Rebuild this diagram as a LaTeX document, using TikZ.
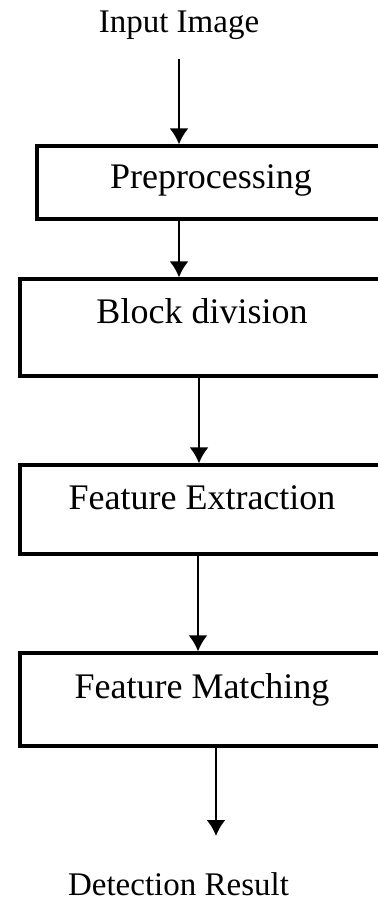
\documentclass[tikz,border=0pt]{standalone}
\usepackage{fontspec}
\setmainfont{Liberation Serif}
\usetikzlibrary{arrows.meta}

\tikzset{
	stage/.style = {draw, line width = 1.6pt, minimum width = 182pt, text height = 12pt, text depth = 12pt, inner sep = 0pt, font = \fontsize{18}{20}\selectfont},
	term/.style = {anchor = base, inner sep = 3pt, font = \fontsize{16.5}{18}\selectfont},
	flow/.style = {->, line width = 1.2pt}
}

\begin{document}
\begin{tikzpicture}[> = {Latex[length = 8pt, width = 9.5pt]}, x = 0.5pt, y = 0.5pt]

	\begin{scope}[yscale = -1]

		\useasboundingbox (0, 0) rectangle (378, 904);
		\clip (0, 0) rectangle (378, 904);

		\node [term] (inp) at (179, 33) {Input Image};
		\node [term] (det) at (178.5, 895) {Detection Result};

		\node [stage, minimum width = 174pt, minimum height = 36.5pt, text depth = 6.5pt] (pre) at (211, 182.5) {Preprocessing};
		\node [stage, minimum height = 48.5pt, text depth = 16.5pt] (blk) at (202, 327.5) {Block division};
		\node [stage, minimum height = 44.5pt, text depth = 12.5pt] (fex) at (202, 509.5) {Feature Extraction};
		\node [stage, minimum height = 46.5pt, text depth = 13.5pt] (fmt) at (202, 699.5) {Feature Matching};

		\coordinate (res) at (216, 836);

		\draw [flow, shorten <= 6pt] (inp.south) -- (inp.south |- pre.north);
		\draw [flow] (pre.south -| inp) -- (blk.north -| inp);
		\draw [flow] ([xshift = -1.5pt] blk.south) -- ([xshift = -1.5pt] fex.north);
		\draw [flow] ([xshift = -2pt] fex.south) -- ([xshift = -2pt] fmt.north);
		\draw [flow] (fmt.south -| res) -- (res);

	\end{scope}

\end{tikzpicture}
\end{document}
